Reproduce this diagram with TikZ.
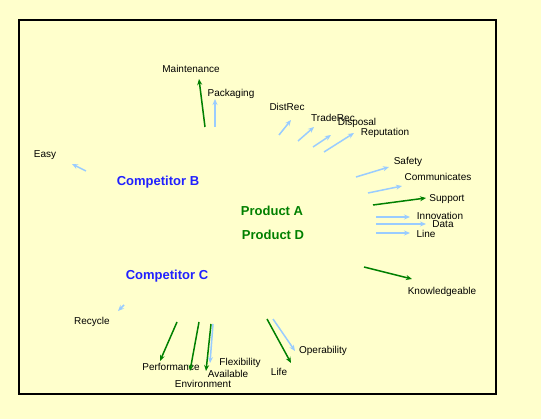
\documentclass[tikz,border=0pt]{standalone}
\usepackage{fontspec}
\setmainfont{Liberation Sans}
\usetikzlibrary{arrows.meta}
\definecolor{bg}{HTML}{FFFFCC}
\definecolor{lblue}{HTML}{99CCFF}
\definecolor{dgreen}{HTML}{008000}
\definecolor{cblue}{HTML}{2020FF}
\begin{document}
\begin{tikzpicture}[x=1pt,y=-1pt,
 lbl/.style={font=\fontsize{10}{12}\selectfont, inner sep=0pt},
 comp/.style={font=\fontsize{13}{15}\selectfont\bfseries, text=cblue, inner sep=0pt},
 prod/.style={font=\fontsize{13}{15}\selectfont\bfseries, text=dgreen, inner sep=0pt},
 barrow/.style={draw=lblue, line width=1.5pt, -{Stealth[length=6pt,width=5pt]}},
 garrow/.style={draw=dgreen, line width=1.5pt, -{Stealth[length=6pt,width=5pt]}},
]
\fill[bg] (0,0) rectangle (541,419);
\useasboundingbox (0,0) rectangle (541,419);
\draw[line width=2pt] (19,20) rectangle (496,394);

% main labels
\node[comp] (compB) at (158,182) {Competitor B};
\node[comp] (compC) at (167,276) {Competitor C};
\node[prod] (prodA) at (272,211) {Product A};
\node[prod] (prodD) at (273,235) {Product D};

% attribute labels
\node[lbl] (maint) at (191,69) {Maintenance};
\node[lbl] (pack) at (231,94) {Packaging};
\node[lbl] (dist) at (287,107) {DistRec};
\node[lbl] (trade) at (333,118) {TradeRec};
\node[lbl] (disp) at (357,123) {Disposal};
\node[lbl] (rep) at (385,133) {Reputation};
\node[lbl] (safe) at (408,162) {Safety};
\node[lbl] (comm) at (438,177) {Communicates};
\node[lbl] (supp) at (447,199) {Support};
\node[lbl] (innov) at (440,216) {Innovation};
\node[lbl] (data) at (443,224) {Data};
\node[lbl] (line) at (426,234) {Line};
\node[lbl] (know) at (442,292) {Knowledgeable};
\node[lbl] (easy) at (45,155) {Easy};
\node[lbl] (recy) at (92,322) {Recycle};
\node[lbl] (perf) at (171,367) {Performance};
\node[lbl] (env) at (203,384) {Environment};
\node[lbl] (avail) at (228,374) {Available};
\node[lbl] (flex) at (240,363) {Flexibility};
\node[lbl] (life) at (279,372) {Life};
\node[lbl] (oper) at (323,351) {Operability};

% arrow endpoints
\coordinate (maintS) at (205,127); \coordinate (maintE) at (199,79);
\coordinate (packS) at (215,127); \coordinate (packE) at (215,99);
\coordinate (distS) at (279,135); \coordinate (distE) at (291,120);
\coordinate (tradeS) at (298,141); \coordinate (tradeE) at (314,127);
\coordinate (dispS) at (313,147); \coordinate (dispE) at (331,135);
\coordinate (repS) at (324,152); \coordinate (repE) at (354,133);
\coordinate (safeS) at (356,177); \coordinate (safeE) at (389,167);
\coordinate (commS) at (368,193); \coordinate (commE) at (402,186);
\coordinate (suppS) at (373,205); \coordinate (suppE) at (426,198);
\coordinate (innovS) at (376,217); \coordinate (innovE) at (410,217);
\coordinate (dataS) at (376,224); \coordinate (dataE) at (426,224);
\coordinate (lineS) at (376,233); \coordinate (lineE) at (410,233);
\coordinate (knowS) at (364,267); \coordinate (knowE) at (412,279);
\coordinate (easyS) at (86,171); \coordinate (easyE) at (72,164);
\coordinate (recyS) at (124,305); \coordinate (recyE) at (118,311);
\coordinate (perfS) at (177,322); \coordinate (perfE) at (160,361);
\coordinate (envS) at (199,322); \coordinate (envE) at (190,371);
\coordinate (availS) at (211,324); \coordinate (availE) at (206,371);
\coordinate (flexS) at (213,324); \coordinate (flexE) at (210,363);
\coordinate (lifeS) at (267,319); \coordinate (lifeE) at (291,363);
\coordinate (operS) at (273,319); \coordinate (operE) at (295,351);

% arrows
\draw[garrow] (maintS) -- (maintE);
\draw[barrow] (packS) -- (packE);
\draw[barrow] (distS) -- (distE);
\draw[barrow] (tradeS) -- (tradeE);
\draw[barrow] (dispS) -- (dispE);
\draw[barrow] (repS) -- (repE);
\draw[barrow] (safeS) -- (safeE);
\draw[barrow] (commS) -- (commE);
\draw[garrow] (suppS) -- (suppE);
\draw[barrow] (innovS) -- (innovE);
\draw[barrow] (dataS) -- (dataE);
\draw[barrow] (lineS) -- (lineE);
\draw[garrow] (knowS) -- (knowE);
\draw[barrow] (easyS) -- (easyE);
\draw[barrow] (recyS) -- (recyE);
\draw[garrow] (perfS) -- (perfE);
\draw[garrow] (envS) -- (envE);
\draw[barrow] (flexS) -- (flexE);
\draw[garrow] (availS) -- (availE);
\draw[barrow] (operS) -- (operE);
\draw[garrow] (lifeS) -- (lifeE);
\end{tikzpicture}
\end{document}
